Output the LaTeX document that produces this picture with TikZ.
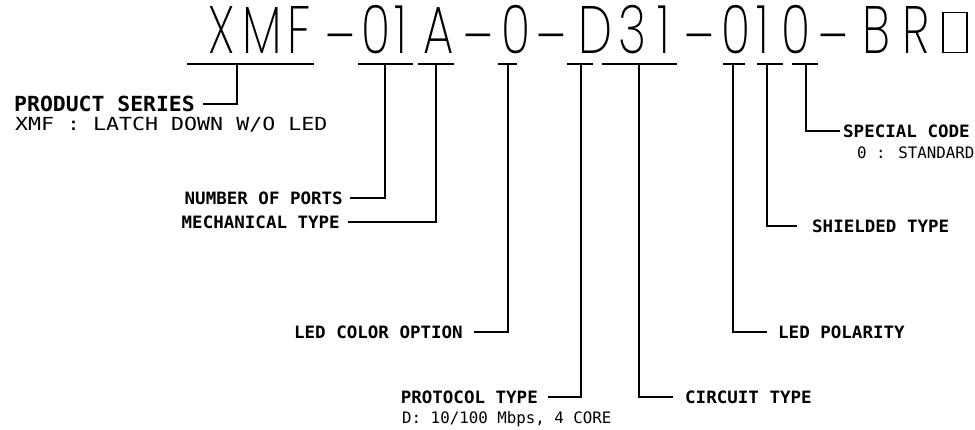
\documentclass[tikz,border=0pt]{standalone}
\usepackage{fontspec}
\setmainfont{DejaVu Sans Mono}
\newfontfamily\titlefont{Poppins ExtraLight}[FakeStretch=0.72]
\newfontfamily\labfont{DejaVu Sans Mono}[FakeStretch=1.03]
\newfontfamily\widefont{DejaVu Sans Mono}[FakeStretch=1.2]
\begin{document}
\begin{tikzpicture}[x=1pt,y=-1pt,
  ch/.style={anchor=base, inner sep=0pt, font=\titlefont\fontsize{67}{67}\selectfont},
  lab/.style={inner sep=0pt, text height=12.4pt, text depth=0pt, font=\labfont\bfseries\fontsize{17}{17}\selectfont},
  bigl/.style={inner sep=0pt, text height=14.5pt, text depth=0pt, font=\labfont\bfseries\fontsize{20.8}{20.8}\selectfont},
  subl/.style={inner sep=0pt, text height=11pt, text depth=0pt, font=\fontsize{15.8}{15.8}\selectfont},
  widel/.style={inner sep=0pt, text height=13pt, text depth=0pt, font=\widefont\fontsize{18}{18}\selectfont},
  uline/.style={line width=1.6pt},
  conn/.style={line width=1.8pt}]
\useasboundingbox (0,0) rectangle (975,429);

% part number characters
\newcommand\tdash{\raisebox{-7pt}{\textendash}}
\foreach \x/\c [count=\i] in {222/X,262/M,299/F,340/\tdash,376/0,401/1,439/A,478/\tdash,516/0,551/\tdash,595/D,632/3,664/1,699/\tdash,736/0,763/1,796/0,833/\tdash,876/B,916/R}
  \node[ch] (t\i) at (\x,53) {\c};
\node[draw, line width=1.4pt, inner sep=0pt, minimum width=24pt, minimum height=40pt] (t21) at (955,32.5) {};

% underline segments and tick points
\coordinate (u1a) at (187,64); \coordinate (u1b) at (314,64); \coordinate (k1) at (237,64);
\coordinate (u2a) at (358,64); \coordinate (u2b) at (413,64); \coordinate (k2) at (385,64);
\coordinate (u3a) at (418,64); \coordinate (u3b) at (454,64); \coordinate (k3) at (436,64);
\coordinate (u4a) at (498,64); \coordinate (u4b) at (517,64); \coordinate (k4) at (508,64);
\coordinate (u5a) at (567,64); \coordinate (u5b) at (593,64); \coordinate (k5) at (581,64);
\coordinate (u6a) at (602,64); \coordinate (u6b) at (677,64); \coordinate (k6) at (639,64);
\coordinate (u7a) at (723,64); \coordinate (u7b) at (745,64); \coordinate (k7) at (733,64);
\coordinate (u8a) at (757,64); \coordinate (u8b) at (783,64); \coordinate (k8) at (767,64);
\coordinate (u9a) at (792,64); \coordinate (u9b) at (818,64); \coordinate (k9) at (806,64);
\foreach \i in {1,...,9} \draw[uline] (u\i a) -- (u\i b);

% labels
\node[bigl, anchor=east] (ps) at (195,104) {PRODUCT SERIES};
\node[widel, anchor=west] (psd) at (15,124) {XMF : LATCH DOWN W/O LED};
\node[lab, anchor=east] (nop) at (343,198) {NUMBER OF PORTS};
\node[lab, anchor=east] (mech) at (340,222) {MECHANICAL TYPE};
\node[lab, anchor=east] (ledc) at (463,332) {LED COLOR OPTION};
\node[lab, anchor=east] (proto) at (538,397) {PROTOCOL TYPE};
\node[subl, anchor=west] (protod) at (402,418) {D: 10/100 Mbps, 4 CORE};
\node[lab, anchor=west] (circ) at (685,397) {CIRCUIT TYPE};
\node[lab, anchor=west] (ledp) at (778,332) {LED POLARITY};
\node[lab, anchor=west] (shield) at (812,226) {SHIELDED TYPE};
\node[lab, anchor=west] (spec) at (843,131) {SPECIAL CODE};
\node[subl, anchor=west] (specd) at (857,153) {0 : STANDARD};

% connectors
\draw[conn] (k1) |- ([xshift=8pt]ps.east);
\draw[conn] (k2) |- ([xshift=7pt]nop.east);
\draw[conn] (k3) |- ([xshift=8pt]mech.east);
\draw[conn] (k4) |- ([xshift=11pt]ledc.east);
\draw[conn] (k5) |- ([xshift=10pt]proto.east);
\draw[conn] (k6) |- ([xshift=-12pt]circ.west);
\draw[conn] (k7) |- ([xshift=-11pt]ledp.west);
\draw[conn] (k8) |- ([xshift=-15pt]shield.west);
\draw[conn] (k9) |- ([xshift=-3pt]spec.west);
\end{tikzpicture}
\end{document}
